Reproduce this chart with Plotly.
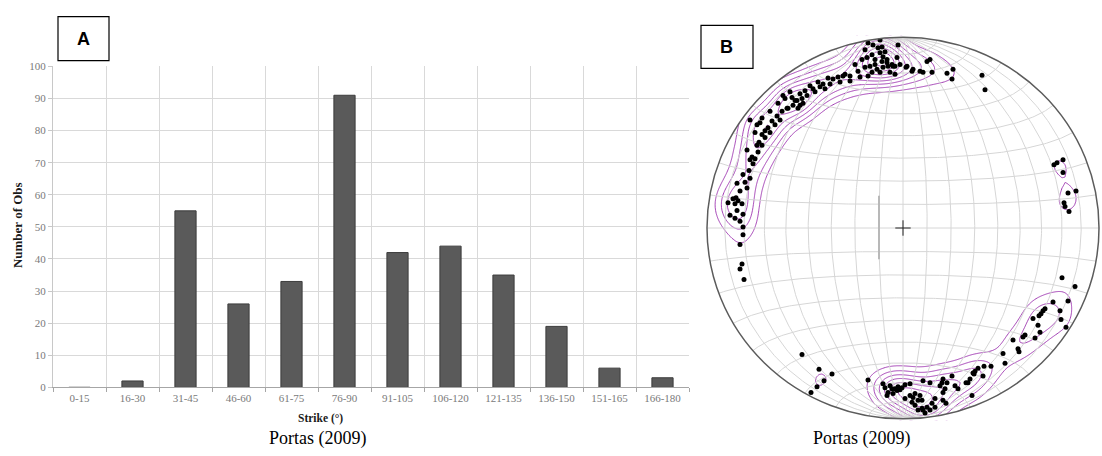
import numpy as np
import plotly.graph_objects as go

W, H = 1102, 456

# ---------------- data: panel A (strike histogram) ----------------
categories = ["0-15", "16-30", "31-45", "46-60", "61-75", "76-90", "91-105",
              "106-120", "121-135", "136-150", "151-165", "166-180"]
counts = [0, 2, 55, 26, 33, 91, 42, 44, 35, 19, 6, 3]
y_ticks = list(range(0, 101, 10))

# ---------------- data: panel B (stereonet poles, net units, R = 196) ----------------
NET_R = 196
pole_x = [
    -153, -111, -106, -103, -116, -121, -126, -131, -123, -128, -135, -138, -133, -141, -138, -144,
    -146, -141, -156, -145, -151, -148, -153, -150, -154, -160, -153, -158, -166, -156, -163, -167,
    -165, -170, -175, -168, -161, -166, -173, -160, -168, -163, -160, -160, -163, -161, -163, -159,
    -23, -30, -35, -25, -38, -23, -31, -36, -28, -21, -16, -11, -8, -15, -20, -26, -33, -38, -23,
    -31, -45, -35, -43, -53, -60, -65, -70, -75, -63, -53, -73, -80, -85, -83, -90, -98, -103, -96,
    -101, -108, -100, -110, -105, -115, 4, 10, 17, 24, 27, 20, 29, 50, 49, -6,
    -21, -18, -20, -16, -10, -3, -5, 3, 9, 44, 79, 82,
    -118, -113, -125, -133, -141, -146, -148, -143, -120, -93, -88, -78, -58, -48, -41, -28, -13, -8,
    151, 154, 160, 160, 165, 173, 161, 162, 166,
    159, 172, 150, 165, 142, 140, 138, 136, 157, 158, 130, 163, 135, 137, 132, 120, 122, 110, 115,
    116, 100, 102, 88, 81, 75, 70, 80, 71, 67, 65,
    72, 63, 49, 40, 44, 39, 52, 55, 37, 42, 40, 32, 40, 43, 29, 32, 27, 20, 22, 15, 12, 9, 15, 10,
    17, 12, 7, 20, 27, 7, 2, -1, -5, -8, -11, -6, -15, -10, -16, -35, -20, 19, 24, 69, 2, 19,
    -3, -13, -18,
    -101, -84, -71, -79, -86, -92,
]
pole_y = [
    111, 134, 131, 126, 123, 120, 115, 110, 111, 106, 103, 100, 98, 96, 93, 88,
    85, 85, 80, 78, 73, 71, 70, 66, 59, 55, 51, 47, 46, 41, 38, 31,
    28, 30, 26, 25, 25, 18, 13, 14, 10, 7, 1, -7, -17, -37, -42, -53,
    193, 188, 190, 185, 183, 180, 178, 175, 173, 171, 170, 168, 166, 166, 165, 163, 166, 165, 160,
    160, 161, 156, 155, 156, 156, 155, 153, 154, 150, 151, 148, 148, 150, 145, 143, 141, 138, 136,
    133, 131, 128, 126, 123, 123, 166, 163, 161, 171, 173, 160, 160, 163, 153, 175,
    186, 181, 176, 173, 166, 168, 188, 165, 161, 159, 157, 142,
    133, 140, 128, 120, 113, 106, 98, 108, 136, 146, 140, 143, 158, 168, 173, 168, 160, 158,
    65, 67, 70, 57, 36, 38, 26, 22, 17,
    -51, -60, -76, -75, -83, -85, -88, -90, -85, -94, -93, -102, -100, -107, -113, -112, -110, -115, -124,
    -127, -129, -139, -142, -142, -144, -149, -152, -150, -155, -159,
    -147, -159, -152, -155, -159, -159, -162, -165, -162, -165, -169, -175, -177, -180, -180, -184, -187, -187, -190, -187, -182, -179, -177, -174,
    -172, -170, -172, -157, -159, -160, -161, -164, -163, -165, -165, -167, -169, -170, -172, -156, -160, -177, -184, -172, -175, -185,
    -166, -162, -164,
    -130, -145, -150, -157, -163, -169,
]

PURPLE = "#a13db3"
GRID = "#d6d6d6"

def fx(p):
    return p / W

def fy(p):
    return 1 - p / H

fig = go.Figure()

# ---------------- panel A ----------------
fig.add_trace(go.Bar(
    x=categories, y=counts, width=0.4,
    marker=dict(color="#5a5a5a", line=dict(color="#3c3c3c", width=1)),
    xaxis="x", yaxis="y", hoverinfo="skip", showlegend=False,
))

# ---------------- panel B: Schmidt net grid ----------------
def project(n, e, d):
    s = 1.0 / np.sqrt(1.0 + d)
    return NET_R * e * s, NET_R * n * s

t = np.linspace(0, np.pi, 181)
gx, gy = [], []
for dip in range(10, 91, 10):
    for sgn in (1, -1):
        if dip == 90 and sgn == -1:
            continue
        dr = np.radians(dip)
        x, y = project(np.cos(t), sgn * np.sin(t) * np.cos(dr), np.sin(t) * np.sin(dr))
        gx += list(x) + [None]
        gy += list(y) + [None]
for a in range(10, 91, 10):
    for sgn in (1, -1):
        if a == 90 and sgn == -1:
            continue
        ar = np.radians(a)
        x, y = project(sgn * np.cos(ar) * np.ones_like(t), np.sin(ar) * np.cos(t), np.sin(ar) * np.sin(t))
        gx += list(x) + [None]
        gy += list(y) + [None]

fig.add_trace(go.Scatter(x=gx, y=gy, mode="lines", line=dict(color=GRID, width=1),
                         xaxis="x2", yaxis="y2", hoverinfo="skip", showlegend=False))
fig.add_trace(go.Scatter(x=[-24, -24], y=[33, -32], mode="lines", line=dict(color="#b8b8b8", width=2),
                         xaxis="x2", yaxis="y2", hoverinfo="skip", showlegend=False))

# density of poles (gaussian kernel) -> contour lines
gv = np.arange(-204, 205, 3.0)
GX, GY = np.meshgrid(gv, gv)
sig = 14.0
dens = np.zeros_like(GX)
for a, b in zip(pole_x, pole_y):
    dens += np.exp(-((GX - a) ** 2 + (GY - b) ** 2) / (2 * sig * sig))

fig.add_trace(go.Contour(
    x=gv, y=gv, z=dens, xaxis="x2", yaxis="y2",
    autocontour=False, contours=dict(coloring="lines", start=3.6, end=23.6, size=2.5),
    colorscale=[[0, PURPLE], [1, PURPLE]], showscale=False,
    line=dict(width=1, smoothing=0.4), hoverinfo="skip",
))

fig.add_trace(go.Scatter(x=pole_x, y=pole_y, mode="markers",
                         marker=dict(color="black", size=5),
                         xaxis="x2", yaxis="y2", hoverinfo="skip", showlegend=False))
fig.add_trace(go.Scatter(x=[0], y=[0], mode="markers",
                         marker=dict(symbol="cross-thin", size=11, line=dict(color="#222", width=1)),
                         xaxis="x2", yaxis="y2", hoverinfo="skip", showlegend=False))

# mask outside the primitive circle + primitive
ang = np.linspace(0, 2 * np.pi, 241)
circ = " L".join(f"{NET_R * np.cos(a):.2f},{NET_R * np.sin(a):.2f}" for a in ang)
mask_path = f"M-205,-205 L205,-205 L205,205 L-205,205 Z M{circ} Z"

shapes = [
    dict(type="path", path=mask_path, xref="x2", yref="y2", fillcolor="white",
         line=dict(width=0), fillrule="evenodd", layer="above"),
    dict(type="circle", xref="x2", yref="y2", x0=-NET_R, x1=NET_R, y0=-NET_R, y1=NET_R,
         line=dict(color="#5c5c5c", width=1.5), layer="above"),
    dict(type="rect", xref="paper", yref="paper", x0=fx(58), x1=fx(109), y0=fy(56), y1=fy(11),
         line=dict(color="black", width=1.2), fillcolor="white", layer="above"),
    dict(type="rect", xref="paper", yref="paper", x0=fx(701), x1=fx(753), y0=fy(64), y1=fy(20),
         line=dict(color="black", width=1.2), fillcolor="white", layer="above"),
]

serif = "Liberation Serif, Times New Roman, serif"
sans = "Liberation Sans, Arial, sans-serif"

def label(text, x, y, size, family, color="black", angle=0):
    return dict(text=text, x=fx(x), y=fy(y), xref="paper", yref="paper", showarrow=False,
                xanchor="center", yanchor="middle", textangle=angle,
                font=dict(family=family, size=size, color=color))

annotations = [
    label("<b>A</b>", 83.5, 34, 18, sans),
    label("<b>B</b>", 727, 42, 18, sans),
    label("<b>Number of Obs</b>", 17, 225, 13, serif, "#1a1a1a", -90),
    label("<b>Strike (°)</b>", 320, 424, 11.5, serif, "#1a1a1a"),
    label("Portas (2009)", 318, 444, 18, serif),
    label("Portas (2009)", 862, 444, 18, serif),
]

fig.update_layout(
    width=W, height=H, margin=dict(l=0, r=0, t=0, b=0),
    paper_bgcolor="white", plot_bgcolor="white", showlegend=False,
    xaxis=dict(domain=[fx(53), fx(689)], type="category", tickson="boundaries",
               showgrid=True, gridcolor="#d9d9d9", gridwidth=1,
               showline=True, linecolor="#a6a6a6", linewidth=1,
               ticks="outside", ticklen=4, tickcolor="#a6a6a6",
               tickfont=dict(family=serif, size=11, color="#7a7a7a"), anchor="y"),
    yaxis=dict(domain=[fy(391.7), fy(62)], range=[0, 100], tickvals=y_ticks,
               showgrid=True, gridcolor="#d9d9d9", gridwidth=1, zeroline=False,
               showline=True, linecolor="#c8c8c8", linewidth=1,
               ticks="outside", ticklen=4, tickcolor="#c8c8c8",
               tickfont=dict(family=serif, size=11, color="#7a7a7a"), anchor="x"),
    xaxis2=dict(domain=[fx(705), fx(1101)], range=[-198, 198], visible=False, anchor="y2",
                fixedrange=True),
    yaxis2=dict(domain=[fy(426), fy(30)], range=[-198, 198], visible=False, anchor="x2",
                fixedrange=True),
    shapes=shapes, annotations=annotations, bargap=0.6,
)

fig.write_html("out.html")
